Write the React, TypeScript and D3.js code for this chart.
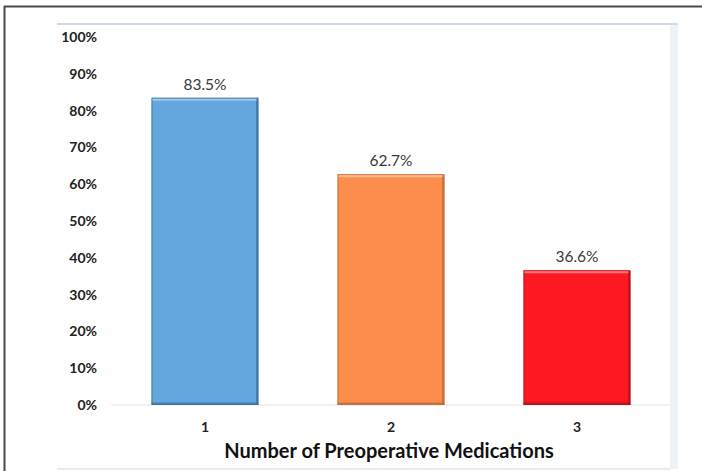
import React from "react";
import * as d3 from "d3";

const categories = ["1", "2", "3"];
const values = [0.835, 0.627, 0.366];
const valueLabels = ["83.5%", "62.7%", "36.6%"];
const barColors = ["#63a7de", "#fc8d4c", "#fe1922"];
const edgeColors = ["#3f6f98", "#b8693a", "#a5141a"];
const highlightColors = ["#9cc8ee", "#ffbd92", "#ff7a7e"];
const yTicks = [0, 0.1, 0.2, 0.3, 0.4, 0.5, 0.6, 0.7, 0.8, 0.9, 1.0];
const xTitle = "Number of Preoperative Medications";

const W = 702;
const H = 471;

export default function App() {
  const x = d3
    .scaleBand<string>()
    .domain(categories)
    .range([112, 670])
    .paddingInner(0.425)
    .paddingOuter(0.2125);
  const y = d3.scaleLinear().domain([0, 1]).range([405, 37]);
  const pct = d3.format(".0%");
  const bw = x.bandwidth();

  return (
    <svg
      width={W}
      height={H}
      style={{ position: "absolute", left: 0, top: 0, background: "#fff" }}
      fontFamily="Lato, 'Open Sans', sans-serif"
    >
      {/* plot panel frame */}
      <rect x={670} y={24} width={8} height={445} fill="#edf2f9" />
      <line x1={57} x2={678} y1={24} y2={24} stroke="#cfd9ea" strokeWidth={2} />
      <line x1={57} x2={670} y1={469} y2={469} stroke="#dde6f2" strokeWidth={1.5} />

      {/* outer border */}
      <line x1={4.5} x2={4.5} y1={6} y2={H} stroke="#4a4a4a" strokeWidth={2} />
      <line x1={4} x2={W} y1={6.5} y2={6.5} stroke="#4a4a4a" strokeWidth={2} />

      {/* baseline */}
      <line x1={111} x2={670} y1={y(0)} y2={y(0)} stroke="#ececec" strokeWidth={1.5} />

      {/* y tick labels */}
      {yTicks.map((t) => (
        <text
          key={t}
          x={97}
          y={y(t)}
          dy="0.36em"
          textAnchor="end"
          fontSize={14}
          fontWeight="bold"
          fill="#222"
        >
          {pct(t)}
        </text>
      ))}

      {/* bars */}
      {categories.map((c, i) => {
        const x0 = x(c)!;
        const y0 = y(values[i]);
        const h = y(0) - y0;
        return (
          <g key={c}>
            <rect x={x0} y={y0} width={bw} height={h} fill={barColors[i]} />
            <rect
              x={x0 + 0.5}
              y={y0 + 0.5}
              width={bw - 1}
              height={h - 1}
              fill="none"
              stroke={edgeColors[i]}
              strokeWidth={1}
              opacity={0.8}
            />
            <line
              x1={x0 + bw - 1.5}
              x2={x0 + bw - 1.5}
              y1={y0 + 1}
              y2={y0 + h}
              stroke={edgeColors[i]}
              strokeWidth={2}
              opacity={0.7}
            />
            <line
              x1={x0}
              x2={x0 + bw}
              y1={y0 + h - 1.5}
              y2={y0 + h - 1.5}
              stroke={edgeColors[i]}
              strokeWidth={2}
              opacity={0.7}
            />
            <line
              x1={x0 + 1}
              x2={x0 + bw - 2}
              y1={y0 + 2}
              y2={y0 + 2}
              stroke={highlightColors[i]}
              strokeWidth={2}
            />
            <text
              x={x0 + bw / 2}
              y={y0 - 8}
              textAnchor="middle"
              fontSize={15.5}
              fill="#3a3a3a"
            >
              {valueLabels[i]}
            </text>
            <text
              x={x0 + bw / 2}
              y={432}
              textAnchor="middle"
              fontSize={14}
              fontWeight="bold"
              fill="#222"
            >
              {c}
            </text>
          </g>
        );
      })}

      {/* x axis title */}
      <text
        x={389}
        y={458}
        textAnchor="middle"
        fontSize={20}
        fontWeight="bold"
        fill="#111"
      >
        {xTitle}
      </text>
    </svg>
  );
}
